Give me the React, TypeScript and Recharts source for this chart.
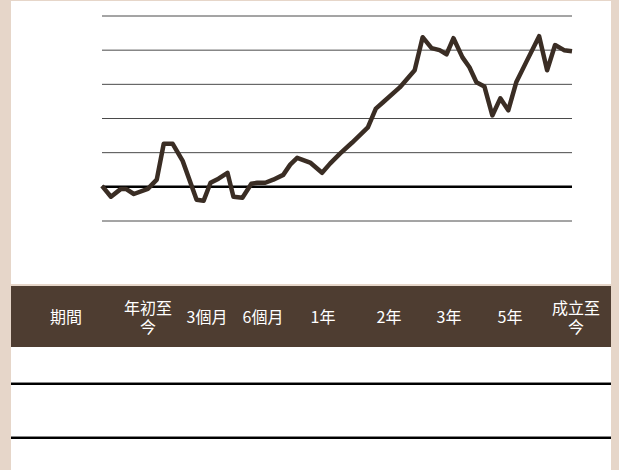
import React from 'react';
import { LineChart, Line, XAxis, YAxis, ReferenceLine } from 'recharts';

// weeks since start (approx.) and cumulative return (%)
const weeks = [
  0, 4.5, 9.5, 12, 16, 23, 27.5, 31, 35.5, 40.5, 47.5, 51, 54.5, 58.5, 63, 66, 70.5, 75, 78, 82,
  86, 91, 94.5, 98, 104.5, 110.5, 114.5, 119.5, 125.5, 133.5, 137.5, 141, 149.5, 157, 161, 165.5,
  169.5, 173, 176.5, 181, 184.5, 188, 192, 196, 200, 204, 208, 213, 219.5, 223.5, 227.5, 232, 236,
];
const returns = [
  0.3, -2.9, -0.6, -0.6, -2.1, -0.6, 2.1, 12.6, 12.6, 7.6, -3.8, -4.1, 1.2, 2.4, 4.1, -2.9, -3.2,
  0.9, 1.2, 1.2, 2.1, 3.5, 6.5, 8.5, 7.1, 4.1, 6.8, 9.7, 12.9, 17.4, 22.9, 24.7, 29.1, 34.1, 43.8,
  40.6, 40.0, 38.8, 43.5, 37.9, 35.0, 30.6, 29.4, 20.9, 25.9, 22.4, 30.6, 36.5, 44.1, 34.1, 41.5,
  40.0, 39.7,
];
const yTicks = [-10, 0, 10, 20, 30, 40, 50];
const periods = ['期間', '年初至今', '3個月', '6個月', '1年', '2年', '3年', '5年', '成立至今'];
const colWidths = [110, 54, 64, 48, 72, 60, 60, 62, 70];

const data = weeks.map((w, i) => ({ week: w, ret: returns[i] }));

const BEIGE = '#e6d6c9';
const BROWN = '#4e3d31';

export default function App() {
  return (
    <div style={{ position: 'absolute', left: 0, top: 0, width: 619, height: 470, background: BEIGE, overflow: 'hidden' }}>
      <div style={{ position: 'absolute', left: 11, top: 1, width: 600, height: 283, background: '#fff' }}>
        <LineChart width={600} height={283} data={data} margin={{ top: 15, right: 39, bottom: 63, left: 91 }}>
          <XAxis dataKey="week" type="number" domain={[0, 236]} hide />
          <YAxis type="number" domain={[-10, 50]} ticks={yTicks} hide />
          {yTicks.map((t) => (
            <ReferenceLine key={t} y={t} stroke={t === 0 ? '#000' : '#4a4a4a'} strokeWidth={t === 0 ? 2.5 : 1} />
          ))}
          <Line
            type="linear"
            dataKey="ret"
            stroke="#3a2d24"
            strokeWidth={4.5}
            strokeLinejoin="round"
            dot={false}
            isAnimationActive={false}
          />
        </LineChart>
      </div>
      <div
        style={{
          position: 'absolute', left: 11, top: 286, width: 600, height: 184, background: '#fff',
          fontFamily: '"Noto Sans CJK TC", "Noto Sans", sans-serif',
        }}
      >
        <div style={{ display: 'flex', height: 61, background: BROWN, color: '#fff', fontSize: 16 }}>
          {periods.map((p, i) => (
            <div
              key={p}
              style={{ width: colWidths[i], display: 'flex', alignItems: 'center', justifyContent: 'center' }}
            >
              <div style={{ maxWidth: 50, textAlign: 'center', lineHeight: '19px' }}>{p}</div>
            </div>
          ))}
        </div>
        <div style={{ position: 'absolute', left: 0, top: 96, width: 600, height: 1, background: '#888' }} />
        <div style={{ position: 'absolute', left: 0, top: 97, width: 600, height: 2, background: '#000' }} />
        <div style={{ position: 'absolute', left: 0, top: 150, width: 600, height: 1, background: '#888' }} />
        <div style={{ position: 'absolute', left: 0, top: 151, width: 600, height: 2, background: '#000' }} />
      </div>
    </div>
  );
}
